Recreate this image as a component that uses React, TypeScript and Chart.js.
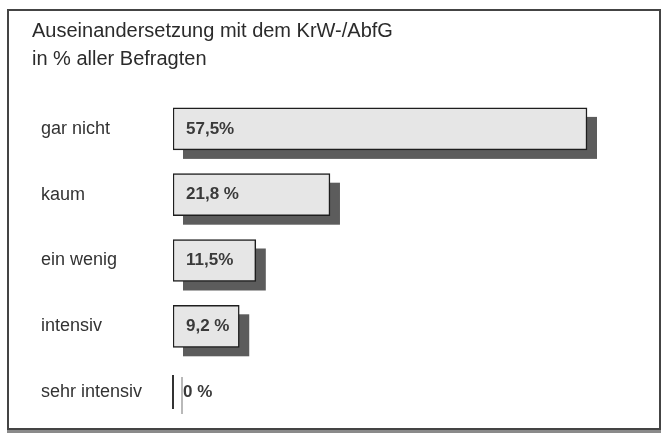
import React, { useEffect, useRef } from "react";
import { Chart, registerables } from "chart.js";

Chart.register(...registerables);

const titleLines = ["Auseinandersetzung mit dem KrW-/AbfG", "in % aller Befragten"];
const categories = ["gar nicht", "kaum", "ein wenig", "intensiv", "sehr intensiv"];
const values = [57.5, 21.8, 11.5, 9.2, 0];
const valueLabels = ["57,5%", "21,8 %", "11,5%", "9,2 %", "0 %"];

const FONT = "'Liberation Sans', Arial, Helvetica, sans-serif";

const shadowPlugin = {
  id: "barShadow",
  afterLayout(chart: any) {
    chart.scales.y.left += 9;
  },
  beforeDatasetsDraw(chart: any) {
    const ctx = chart.ctx;
    const meta = chart.getDatasetMeta(0);
    ctx.save();
    meta.data.forEach((bar: any) => {
      const { x, y, base, height } = bar.getProps(["x", "y", "base", "height"], true);
      const w = x - base;
      if (w > 1) {
        ctx.fillStyle = "#5c5c5c";
        ctx.fillRect(base + 10, y - height / 2 + 9, w, height);
      } else {
        ctx.strokeStyle = "#8a8a8a";
        ctx.lineWidth = 1.2;
        ctx.beginPath();
        ctx.moveTo(base + 9, y - height / 2 + 6);
        ctx.lineTo(base + 9, y + height / 2 + 1);
        ctx.stroke();
      }
    });
    ctx.restore();
  },
  afterDatasetsDraw(chart: any) {
    const ctx = chart.ctx;
    const meta = chart.getDatasetMeta(0);
    ctx.save();
    meta.data.forEach((bar: any, i: number) => {
      const { x, y, base, height } = bar.getProps(["x", "y", "base", "height"], true);
      const w = x - base;
      if (w <= 1) {
        ctx.strokeStyle = "#333";
        ctx.lineWidth = 2;
        ctx.beginPath();
        ctx.moveTo(base, y - height / 2 + 4);
        ctx.lineTo(base, y + height / 2 - 4);
        ctx.stroke();
      }
      ctx.fillStyle = "#3a3a3a";
      ctx.font = `bold 17px ${FONT}`;
      ctx.textAlign = "left";
      ctx.textBaseline = "middle";
      ctx.fillText(valueLabels[i], base + (w > 1 ? 13 : 10), y);
    });
    ctx.restore();
  },
};

export default function App() {
  const ref = useRef<HTMLCanvasElement>(null);
  useEffect(() => {
    if (!ref.current) return;
    const chart = new Chart(ref.current, {
      type: "bar",
      data: {
        labels: categories,
        datasets: [
          {
            data: values,
            backgroundColor: "#e6e6e6",
            borderColor: "#1e1e1e",
            borderWidth: 1.5,
            borderSkipped: false,
            barThickness: 42,
          },
        ],
      },
      options: {
        indexAxis: "y",
        animation: false,
        responsive: false,
        layout: { padding: { left: 23, right: 54, top: 0, bottom: 3 } },
        scales: {
          x: { display: false, min: 0, max: 60 },
          y: {
            grid: { display: false, drawTicks: false },
            border: { display: false },
            ticks: {
              crossAlign: "far",
              padding: 0,
              color: "#333",
              font: { family: FONT, size: 18 },
            },
            afterFit(s: any) {
              s.width = 141;
              s.paddingTop = 0;
              s.paddingBottom = 0;
            },
          },
        },
        plugins: {
          legend: { display: false },
          tooltip: { enabled: false },
          title: {
            display: true,
            text: titleLines,
            align: "start",
            color: "#2b2b2b",
            font: { family: FONT, size: 20, weight: "normal", lineHeight: 1.375 },
            padding: { top: 7, bottom: 23 },
          },
        },
      },
      plugins: [shadowPlugin],
    });
    return () => chart.destroy();
  }, []);
  return (
    <div
      style={{
        position: "fixed",
        left: 7,
        top: 9,
        width: 650,
        height: 417,
        border: "2px solid #444",
        boxShadow: "0 3px 0 #8a8a8a",
        background: "#fff",
      }}
    >
      <canvas ref={ref} width={650} height={417} style={{ display: "block" }} />
    </div>
  );
}
